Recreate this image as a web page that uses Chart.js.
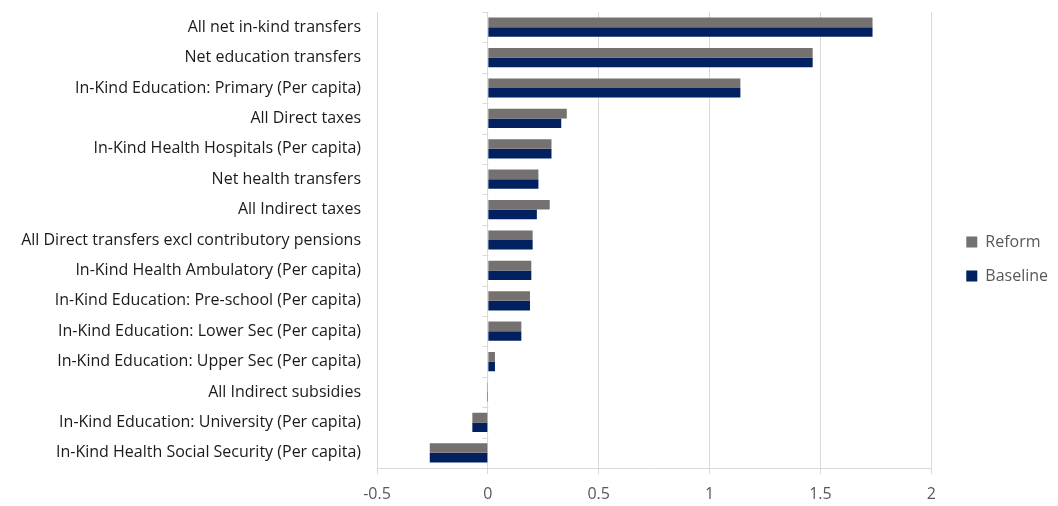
<!DOCTYPE html>
<html>
<head>
<meta charset="utf-8">
<script src="https://cdn.jsdelivr.net/npm/chart.js@4"></script>
<style>
  html, body { margin: 0; padding: 0; background: #fff; }
  #wrap { width: 1058px; height: 506px; position: relative; }
</style>
</head>
<body>
<div id="wrap"><canvas id="chart"></canvas></div>
<script>
const categories = [
  'All net in-kind transfers',
  'Net education transfers',
  'In-Kind Education: Primary (Per capita)',
  'All Direct taxes',
  'In-Kind Health Hospitals (Per capita)',
  'Net health transfers',
  'All Indirect taxes',
  'All Direct transfers excl contributory pensions',
  'In-Kind Health Ambulatory (Per capita)',
  'In-Kind Education: Pre-school (Per capita)',
  'In-Kind Education: Lower Sec (Per capita)',
  'In-Kind Education: Upper Sec (Per capita)',
  'All Indirect subsidies',
  'In-Kind Education: University (Per capita)',
  'In-Kind Health Social Security (Per capita)'
];
const reform   = [1.735, 1.465, 1.139, 0.356, 0.287, 0.228, 0.279, 0.202, 0.196, 0.190, 0.151, 0.032, -0.004, -0.070, -0.262];
const baseline = [1.735, 1.465, 1.139, 0.331, 0.287, 0.228, 0.221, 0.202, 0.196, 0.190, 0.151, 0.032, -0.004, -0.070, -0.262];
const xTicks = [-0.5, 0, 0.5, 1, 1.5, 2];

const FONT = '"Open Sans", sans-serif';
const LEGEND_GAP = 17; // extra room between plot and legend

// small tick marks on the category axis, drawn at the zero line like Excel does
const zeroTicks = {
  id: 'zeroTicks',
  afterInit(chart) {
    // widen the legend box so the plot ends where the reference plot ends
    const lg = chart.legend;
    const fit = lg.fit;
    lg.fit = function () { fit.call(this); this.width += LEGEND_GAP; };
  },
  afterLayout(chart) {
    chart.legend.left += LEGEND_GAP;
  },
  afterDatasetsDraw(chart) {
    const x = chart.scales.x, y = chart.scales.y;
    const x0 = Math.round(x.getPixelForValue(0)) + 0.5;
    const ctx = chart.ctx;
    ctx.save();
    ctx.strokeStyle = '#d9d9d9';
    ctx.lineWidth = 1;
    for (let i = 0; i <= categories.length; i++) {
      const py = Math.round(y.getPixelForValue(i - 0.5)) + 0.5;
      ctx.beginPath();
      ctx.moveTo(x0 - 6, py);
      ctx.lineTo(x0, py);
      ctx.stroke();
    }
    ctx.restore();
  }
};

new Chart(document.getElementById('chart').getContext('2d'), {
  type: 'bar',
  data: {
    labels: categories,
    datasets: [
      { label: 'Reform', data: reform, backgroundColor: '#767171', borderWidth: 0 },
      { label: 'Baseline', data: baseline, backgroundColor: '#002060', borderWidth: 0 }
    ]
  },
  options: {
    indexAxis: 'y',
    responsive: true,
    maintainAspectRatio: false,
    animation: false,
    categoryPercentage: 0.63,
    barPercentage: 1.0,
    layout: { padding: { top: 12, right: 0, bottom: 0, left: 0 } },
    scales: {
      x: {
        min: -0.5,
        max: 2,
        afterBuildTicks(scale) { scale.ticks = xTicks.map(v => ({ value: v })); },
        afterFit(scale) { scale.height = 38; },
        grid: { color: '#d9d9d9', tickLength: 6, drawTicks: true },
        border: { color: '#d9d9d9' },
        ticks: {
          color: '#595959',
          font: { family: FONT, size: 16 },
          padding: 11,
          callback: v => String(v)
        }
      },
      y: {
        afterFit(scale) { scale.width = 377; },
        grid: { display: true, drawOnChartArea: false, drawTicks: true, tickLength: 16, color: 'rgba(0,0,0,0)' },
        border: { display: false },
        ticks: {
          color: '#1a1a1a',
          font: { family: FONT, size: 16 },
          padding: 0,
          autoSkip: false
        }
      }
    },
    plugins: {
      legend: {
        position: 'right',
        labels: {
          color: '#595959',
          font: { family: FONT, size: 16 },
          boxWidth: 11,
          boxHeight: 11,
          padding: 18
        }
      },
      tooltip: { enabled: false }
    }
  },
  plugins: [zeroTicks]
});
</script>
</body>
</html>
